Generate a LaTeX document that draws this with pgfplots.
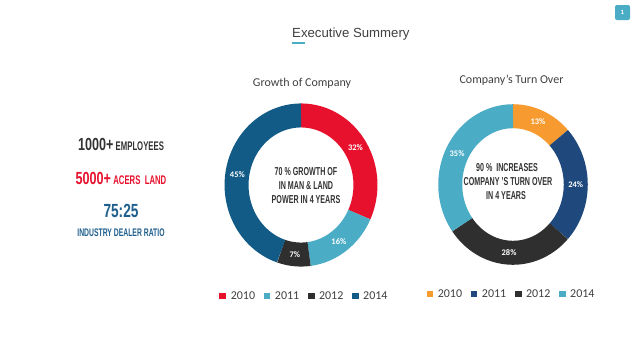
\documentclass[border=0pt]{standalone}
\usepackage{pgfplots}
\pgfplotsset{compat=1.18}
\usepackage{pgfplotstable}
\usepackage{fontspec}
\setmainfont{Carlito}
\newfontfamily\lib{Liberation Sans}
\newfontfamily\bebasN{Liberation Sans}[FakeStretch=0.72]
\newfontfamily\bebasL{Liberation Sans}[FakeStretch=0.62]
\definecolor{cRed}{HTML}{E8112D}
\definecolor{cCyan}{HTML}{4BACC6}
\definecolor{cDark}{HTML}{2F2F2F}
\definecolor{cBlue}{HTML}{135B87}
\definecolor{cOrange}{HTML}{F79A2F}
\definecolor{cNavy}{HTML}{1F497D}
\definecolor{txtgray}{HTML}{404040}
\definecolor{leftdark}{HTML}{333333}
\definecolor{leftblue}{HTML}{1F5F8E}

\pgfplotstableread{
year pct col
2010 32 cRed
2011 16 cCyan
2012 7 cDark
2014 45 cBlue
}\growthtable

\pgfplotstableread{
year pct col
2010 13 cOrange
2011 24 cNavy
2012 28 cDark
2014 35 cCyan
}\turnovertable

\newcommand{\donutsegments}[2]{%
  \def\startang{90}%
  \pgfplotstablegetrowsof{#1}\pgfmathtruncatemacro\nrows{\pgfplotsretval-1}%
  \pgfplotsforeachungrouped \i in {0,...,\nrows}{%
    \pgfplotstablegetelem{\i}{pct}\of{#1}\let\pct\pgfplotsretval
    \pgfplotstablegetelem{\i}{col}\of{#1}\let\segcol\pgfplotsretval
    \pgfplotstablegetelem{\i}{year}\of{#1}\let\yr\pgfplotsretval
    \pgfmathsetmacro\endang{\startang-3.6*\pct}%
    \pgfmathsetmacro\midang{(\startang+\endang)/2}%
    \pgfmathsetmacro\lx{#2*cos(\midang)}%
    \pgfmathsetmacro\ly{#2*sin(\midang)}%
    \edef\tmp{%
      \noexpand\addplot[color=\segcol, line width=24pt, domain=\endang:\startang, samples=90, variable=\noexpand\t]
        ({#2*cos(\noexpand\t)},{#2*sin(\noexpand\t)});
      \noexpand\addlegendentry{\yr}
      \noexpand\node[pctlabel] at (axis cs:\lx,\ly) {\pct\noexpand\%};
    }\tmp
    \let\startang\endang
  }%
}

\pgfplotsset{
  donutaxis/.style={
    anchor=center, scale only axis, hide axis, clip=false,
    xmin=-1, xmax=1, ymin=-1, ymax=1,
    legend columns=4,
    legend image code/.code={\fill[##1, draw=none, line width=0pt] (0pt,-3.4pt) rectangle (6.8pt,3.4pt);},
    legend style={draw=none, fill=none, anchor=center, inner sep=0pt,
      font=\fontsize{12}{14}\selectfont, text=txtgray,
      /tikz/every odd column/.append style={column sep=2.5pt},
      /tikz/every even column/.append style={column sep=6.5pt}},
  },
}
\tikzset{pctlabel/.style={text=white, font=\bfseries\fontsize{8.5}{9}\selectfont}}

\begin{document}
\begin{tikzpicture}[x=1pt,y=1pt]
\fill[white] (0,0) rectangle (640,360);
\path[use as bounding box] (0,0) rectangle (640,360);

% title
\node[anchor=base west, inner sep=0pt, font=\lib\fontsize{13.2}{16}\selectfont, text=txtgray] at (292,323) {Executive Summery};
\draw[cCyan, line width=2pt] (292,317) -- (305,317);
% badge
\fill[cCyan, rounded corners=2pt] (615,340) rectangle (630,355);
\node[text=white, font=\lib\bfseries\fontsize{6}{6}\selectfont] at (622.5,347.5) {1};

% left figures
\node[anchor=base, inner sep=0pt, text=leftdark] at (121,210) {{\bebasN\bfseries\fontsize{17.5}{18}\selectfont 1000+} {\bebasL\bfseries\fontsize{12.5}{14}\selectfont EMPLOYEES}};
\node[anchor=base, inner sep=0pt, text=cRed] at (121,176) {{\bebasN\bfseries\fontsize{17.5}{18}\selectfont 5000+} {\bebasL\bfseries\fontsize{12.5}{14}\selectfont ACERS\ \ LAND}};
\node[anchor=base, inner sep=0pt, text=leftblue] at (121,143) {\bebasN\bfseries\fontsize{19}{20}\selectfont 75:25};
\node[anchor=base, inner sep=0pt, text=leftblue] at (121,124) {\bebasL\bfseries\fontsize{11}{12}\selectfont INDUSTRY DEALER RATIO};

% subtitles
\node[anchor=base, inner sep=0pt, text=txtgray, font=\fontsize{12}{14}\selectfont] at (302,274) {Growth of Company};
\node[anchor=base, inner sep=0pt, text=txtgray, font=\fontsize{12}{14}\selectfont] at (511.5,277) {Company’s Turn Over};

% donut 1
\begin{axis}[donutaxis, at={(301pt,175pt)}, width=152pt, height=164pt,
  legend style={at={(0.523,-0.177)}}]
\donutsegments{\growthtable}{0.848}
\end{axis}
% donut 2
\begin{axis}[donutaxis, at={(513pt,175.5pt)}, width=148pt, height=161pt,
  legend style={at={(0.49,-0.18)}}]
\donutsegments{\turnovertable}{0.848}
\end{axis}

% centre texts
\begin{scope}[every node/.style={anchor=base, inner sep=0pt, text=leftdark, font=\bebasL\bfseries\fontsize{11.5}{12}\selectfont}]
\node at (306,185) {70 \% GROWTH OF};
\node at (306,171) {IN MAN \& LAND};
\node at (306,157) {POWER IN 4 YEARS};
\node at (507,189) {90 \%\ \ INCREASES};
\node at (508,175) {COMPANY ’S TURN OVER};
\node at (506,161) {IN 4 YEARS};
\end{scope}
\end{tikzpicture}
\end{document}
